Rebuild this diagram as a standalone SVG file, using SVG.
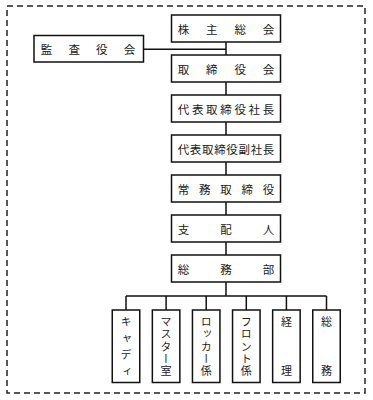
<svg xmlns="http://www.w3.org/2000/svg" width="373" height="400" viewBox="0 0 373 400">
<style>
.box{fill:#fff;stroke:#111;stroke-width:1.5}
.t{font-family:"Noto Sans CJK JP","Noto Sans CJK SC",sans-serif;font-size:11.5px;fill:#1a1a1a;text-anchor:middle;dominant-baseline:central}
.v{font-family:"Noto Sans CJK JP","Noto Sans CJK SC",sans-serif;font-size:11px;fill:#1a1a1a;text-anchor:middle;writing-mode:vertical-rl}
.c{fill:none;stroke:#111;stroke-width:1.5}
</style>
<rect x="7" y="6" width="358" height="387" fill="none" stroke="#222" stroke-width="1.5" stroke-dasharray="6 4"/>
<g id="connectors">
<path class="c" d="M226 42V55M226 82V95M226 122V135M226 162V175M226 202V215M226 242V255M226 282V296M143.5 49.3H226M126 296H326.5M126 296V310M166.1 296V310M206.2 296V310M246.3 296V310M286.4 296V310M326.5 296V310"/>
</g>
<g id="n1"><rect class="box" x="171.5" y="15" width="109" height="27"/><text class="t" x="183.5 211.8 240.2 268.5" y="28.5">株主総会</text></g>
<g id="n0"><rect class="box" x="34" y="35.5" width="109.5" height="26.5"/><text class="t" x="46.5 74.2 101.8 129.5" y="48.75">監査役会</text></g>
<g id="n2"><rect class="box" x="171.5" y="55" width="109" height="27"/><text class="t" x="183.5 211.8 240.2 268.5" y="68.5">取締役会</text></g>
<g id="n3"><rect class="box" x="171.5" y="95" width="109" height="27"/><text class="t" x="183.5 197.7 211.8 226 240.2 254.3 268.5" y="108.5">代表取締役社長</text></g>
<g id="n4"><rect class="box" x="171.5" y="135" width="109" height="27"/><text class="t" x="183.5 195.6 207.8 219.9 232.1 244.2 256.4 268.5" y="148.5">代表取締役副社長</text></g>
<g id="n5"><rect class="box" x="171.5" y="175" width="109" height="27"/><text class="t" x="183.5 204.75 226 247.25 268.5" y="188.5">常務取締役</text></g>
<g id="n6"><rect class="box" x="171.5" y="215" width="109" height="27"/><text class="t" x="183.5 226 268.5" y="228.5">支配人</text></g>
<g id="n7"><rect class="box" x="171.5" y="255" width="109" height="27"/><text class="t" x="183.5 226 268.5" y="268.5">総務部</text></g>
<g id="b1"><rect class="box" x="112.25" y="310" width="27.5" height="72.5"/><text class="v" x="126" y="322 338.5 355 371.5">キャディ</text></g>
<g id="b2"><rect class="box" x="152.35" y="310" width="27.5" height="72.5"/><text class="v" x="166.1" y="322 334.3 346.6 358.9 371.2">マスター室</text></g>
<g id="b3"><rect class="box" x="192.45" y="310" width="27.5" height="72.5"/><text class="v" x="206.2" y="322 334.3 346.6 358.9 371.2">ロッカー係</text></g>
<g id="b4"><rect class="box" x="232.55" y="310" width="27.5" height="72.5"/><text class="v" x="246.3" y="322 334.3 346.6 358.9 371.2">フロント係</text></g>
<g id="b5"><rect class="box" x="272.65" y="310" width="27.5" height="72.5"/><text class="v" x="286.4" y="322 371.2">経理</text></g>
<g id="b6"><rect class="box" x="312.75" y="310" width="27.5" height="72.5"/><text class="v" x="326.5" y="322 371.2">総務</text></g>
</svg>
